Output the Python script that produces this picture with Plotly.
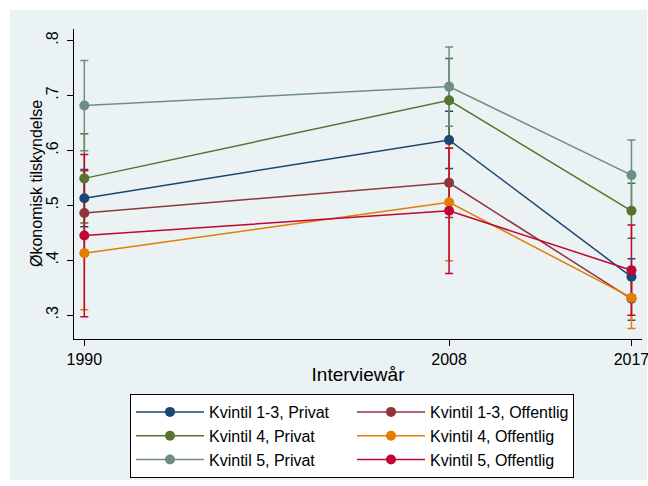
import plotly.graph_objects as go

years = [1990, 2008, 2017]
year_labels = ["1990", "2008", "2017"]
y_ticks = [0.3, 0.4, 0.5, 0.6, 0.7, 0.8]
y_tick_labels = [".3", ".4", ".5", ".6", ".7", ".8"]
x_title = "Interviewår"
y_title = "Økonomisk tilskyndelse"

names = ["Kvintil 1-3, Privat", "Kvintil 1-3, Offentlig",
         "Kvintil 4, Privat", "Kvintil 4, Offentlig",
         "Kvintil 5, Privat", "Kvintil 5, Offentlig"]

q13_privat = [0.513, 0.619, 0.370]
q13_offentlig = [0.486, 0.541, 0.330]
q4_privat = [0.549, 0.691, 0.490]
q4_offentlig = [0.413, 0.5055, 0.332]
q5_privat = [0.6815, 0.716, 0.555]
q5_offentlig = [0.445, 0.490, 0.382]

# half-widths of confidence intervals
q13_privat_ci = [0.052, 0.052, 0.033]
q13_offentlig_ci = [0.077, 0.063, 0.039]
q4_privat_ci = [0.081, 0.076, 0.050]
q4_offentlig_ci = [0.103, 0.1065, 0.056]
q5_privat_ci = [0.082, 0.072, 0.064]
q5_offentlig_ci = [0.1475, 0.114, 0.082]

values = [q13_privat, q13_offentlig, q4_privat, q4_offentlig, q5_privat, q5_offentlig]
cis = [q13_privat_ci, q13_offentlig_ci, q4_privat_ci, q4_offentlig_ci, q5_privat_ci, q5_offentlig_ci]
colors = ["#1A476F", "#90353B", "#55752F", "#E37E00", "#6E8E84", "#C10534"]

FONT = "Liberation Sans, Arial, Helvetica, sans-serif"
LIGHT = "#EAF2F3"

W, H = 648, 486
PL, PR, PT, PB = 74, 642, 29, 339   # plot area in pixels
PW, PH = PR - PL, PB - PT

fig = go.Figure()

# confidence interval caps (drawn beneath all lines)
for v, ci, c in zip(values, cis, colors):
    fig.add_trace(go.Scatter(
        x=years, y=v, mode="markers",
        marker=dict(size=1, color="rgba(0,0,0,0)"),
        error_y=dict(type="data", array=ci, visible=True, color=c,
                     thickness=1.5, width=4),
        showlegend=False, hoverinfo="skip"))

for n, v, c in zip(names, values, colors):
    fig.add_trace(go.Scatter(
        x=years, y=v, mode="lines+markers", name=n,
        line=dict(color=c, width=1.5),
        marker=dict(color=c, size=10, symbol="circle")))

fig.update_layout(
    width=W, height=H,
    margin=dict(l=PL, r=W - PR, t=PT, b=H - PB, autoexpand=False),
    paper_bgcolor="white",
    plot_bgcolor="white",
    font=dict(family=FONT, size=16, color="black"),
    shapes=[dict(type="rect", xref="paper", yref="paper",
                 x0=(10 - PL) / PW, x1=(647 - PL) / PW,
                 y0=(PB - 480) / PH, y1=(PB - 10) / PH,
                 fillcolor=LIGHT, line=dict(width=0), layer="below")],
    annotations=[dict(text=y_title, xref="paper", yref="paper",
                      x=(36 - PL) / PW, y=0.5, textangle=-90,
                      xanchor="center", yanchor="middle", showarrow=False,
                      font=dict(family=FONT, size=16, color="black"))],
    legend=dict(orientation="h", x=(130 - PL) / PW, y=(PB - 394) / PH,
                xanchor="left", yanchor="top",
                bgcolor="white", bordercolor="black", borderwidth=1,
                font=dict(family=FONT, size=16, color="black"),
                entrywidth=138, entrywidthmode="pixels", itemwidth=68),
    xaxis=dict(range=[1989.49, 2017.52], tickvals=years, ticktext=year_labels,
               ticks="outside", ticklen=6, tickcolor="black", tickwidth=1,
               showline=True, linecolor="black", linewidth=1,
               showgrid=False, zeroline=False, ticklabeloverflow="allow",
               title=dict(text=x_title, standoff=0),
               tickfont=dict(size=16)),
    yaxis=dict(range=[0.2568, 0.8208], tickvals=y_ticks, ticktext=y_tick_labels,
               tickangle=-90, ticks="outside", ticklen=6, tickcolor="black",
               tickwidth=1, showline=True, linecolor="black", linewidth=1,
               showgrid=True, gridcolor=LIGHT, gridwidth=1, zeroline=False,
               ticklabelstandoff=3,
               tickfont=dict(size=16)),
)

fig.write_html("out.html",
               config={"displayModeBar": False},
               post_script="document.body.style.margin='0';"
                           "document.body.style.overflow='hidden';")
